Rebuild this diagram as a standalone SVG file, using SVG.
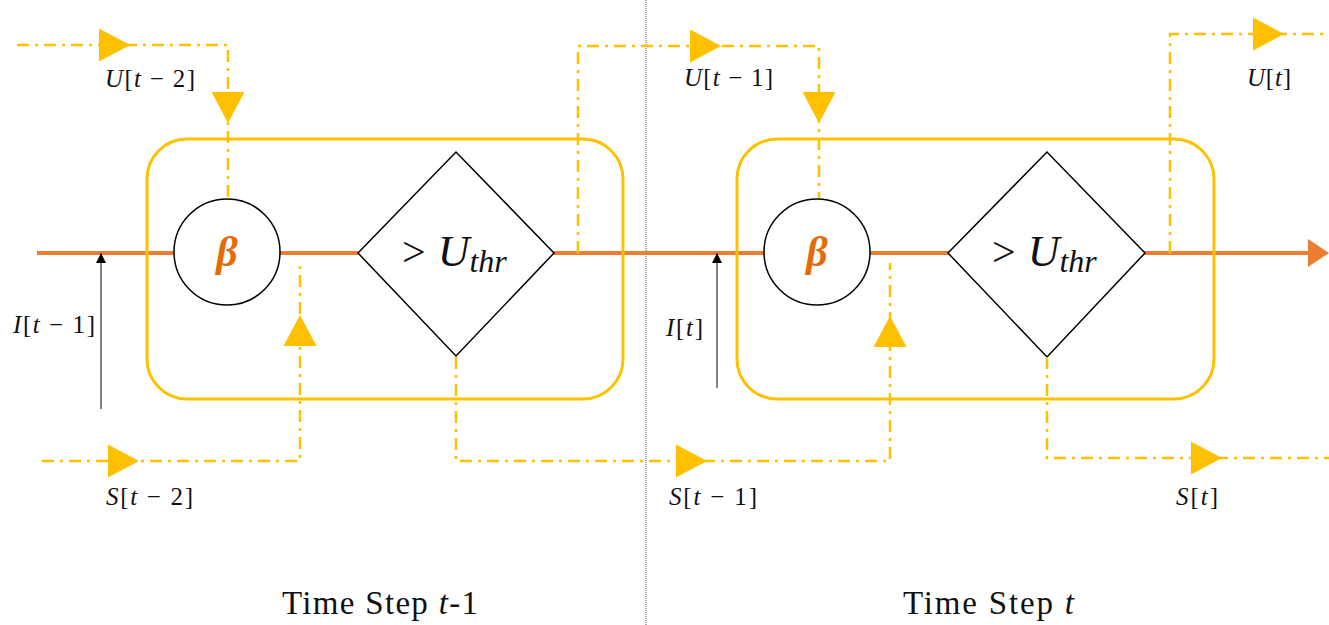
<svg xmlns="http://www.w3.org/2000/svg" xmlns:xlink="http://www.w3.org/1999/xlink" width="1329" height="625" viewBox="0 0 1329 625">
<style>
.box{fill:none;stroke:#FFC000;stroke-width:3}
.node{fill:#fff;stroke:#000;stroke-width:1.5}
.dash{fill:none;stroke:#FFC000;stroke-width:2.5;stroke-dasharray:12,6,3,6}
.tri{fill:#FFC000}
.main{fill:none;stroke:#ED7D31;stroke-width:4}
.in{fill:none;stroke:#333;stroke-width:1.2}
.lbl{font-family:"Liberation Serif",serif;font-size:25px;fill:#111}
.it{font-style:italic}
.beta{font-family:"Liberation Serif",serif;font-size:42px;font-weight:bold;font-style:italic;fill:#E36C09}
.thr{font-family:"Liberation Serif",serif;fill:#111}
.cap{font-family:"Liberation Serif",serif;font-size:33px;fill:#111}
</style>
<defs>
<polygon id="tri" points="-31,-16.5 0,0 -31,16.5"/>
<marker id="blk" viewBox="0 0 10 10" refX="10" refY="5" markerWidth="10" markerHeight="10" markerUnits="userSpaceOnUse" orient="auto">
<path d="M0,0 L10,5 L0,10 z" fill="#000"/>
</marker>
</defs>
<rect width="1329" height="625" fill="#fff"/>
<line x1="646" y1="0" x2="646" y2="625" stroke="#555" stroke-width="1" stroke-dasharray="1,1"/>

<g id="connectors">
<path class="main" d="M37,253 H1312"/>
<polygon points="1308,239 1329,253 1308,267" fill="#ED7D31"/>
</g>

<g id="cell1"><rect class="box" x="147" y="139" width="476" height="260" rx="40"/></g>
<g id="cell2"><rect class="box" x="737" y="139" width="477" height="260" rx="40"/></g>

<g id="beta1"><circle class="node" cx="227" cy="252" r="53"/><text class="beta" x="227" y="266" text-anchor="middle">β</text></g>
<g id="thr1"><polygon class="node" points="358,253 456,152 554,253 456,356"/>
<text class="thr" x="402" y="266"><tspan font-size="42">&gt;</tspan><tspan font-size="44" font-style="italic" dx="12">U</tspan><tspan font-size="32" font-style="italic" dy="6">thr</tspan></text></g>
<g id="beta2"><circle class="node" cx="817" cy="252" r="53"/><text class="beta" x="817" y="266" text-anchor="middle">β</text></g>
<g id="thr2"><polygon class="node" points="948,253 1047,152 1145,253 1047,357"/>
<text class="thr" x="992" y="266"><tspan font-size="42">&gt;</tspan><tspan font-size="44" font-style="italic" dx="12">U</tspan><tspan font-size="32" font-style="italic" dy="6">thr</tspan></text></g>

<g id="links">
<path class="dash" d="M17,45 H228 V198"/>
<path class="dash" d="M42,461 H300 V263"/>
<path class="dash" d="M578,253 V46 H819 V198"/>
<path class="dash" d="M456,357 V461 H890 V263"/>
<path class="dash" d="M1170,253 V34 H1329"/>
<path class="dash" d="M1047,357 V458 H1329"/>
<g class="tri">
<use xlink:href="#tri" transform="translate(130,45)"/>
<use xlink:href="#tri" transform="translate(139,461)"/>
<use xlink:href="#tri" transform="translate(721,46)"/>
<use xlink:href="#tri" transform="translate(707,461)"/>
<use xlink:href="#tri" transform="translate(1284,34)"/>
<use xlink:href="#tri" transform="translate(1222,458)"/>
<use xlink:href="#tri" transform="translate(228,123) rotate(90)"/>
<use xlink:href="#tri" transform="translate(819,123) rotate(90)"/>
<use xlink:href="#tri" transform="translate(300,315) rotate(-90)"/>
<use xlink:href="#tri" transform="translate(890,316) rotate(-90)"/>
</g>
<line class="in" x1="101" y1="409" x2="101" y2="253" marker-end="url(#blk)"/>
<line class="in" x1="717" y1="388" x2="717" y2="253" marker-end="url(#blk)"/>
</g>

<g id="labels">
<text class="lbl" x="105" y="87" textLength="90"><tspan class="it">U</tspan>[<tspan class="it">t</tspan> − 2]</text>
<text class="lbl" x="684" y="86" textLength="89"><tspan class="it">U</tspan>[<tspan class="it">t</tspan> − 1]</text>
<text class="lbl" x="1247" y="86" textLength="44"><tspan class="it">U</tspan>[<tspan class="it">t</tspan>]</text>
<text class="lbl" x="13" y="333" textLength="82"><tspan class="it">I</tspan>[<tspan class="it">t</tspan> − 1]</text>
<text class="lbl" x="666" y="336" textLength="37"><tspan class="it">I</tspan>[<tspan class="it">t</tspan>]</text>
<text class="lbl" x="106" y="505" textLength="87"><tspan class="it">S</tspan>[<tspan class="it">t</tspan> − 2]</text>
<text class="lbl" x="669" y="505" textLength="88"><tspan class="it">S</tspan>[<tspan class="it">t</tspan> − 1]</text>
<text class="lbl" x="1176" y="505" textLength="42"><tspan class="it">S</tspan>[<tspan class="it">t</tspan>]</text>
<text class="cap" x="282" y="614" textLength="196">Time Step <tspan class="it">t</tspan>-1</text>
<text class="cap" x="903" y="614" textLength="171">Time Step <tspan class="it">t</tspan></text>
</g>
</svg>
